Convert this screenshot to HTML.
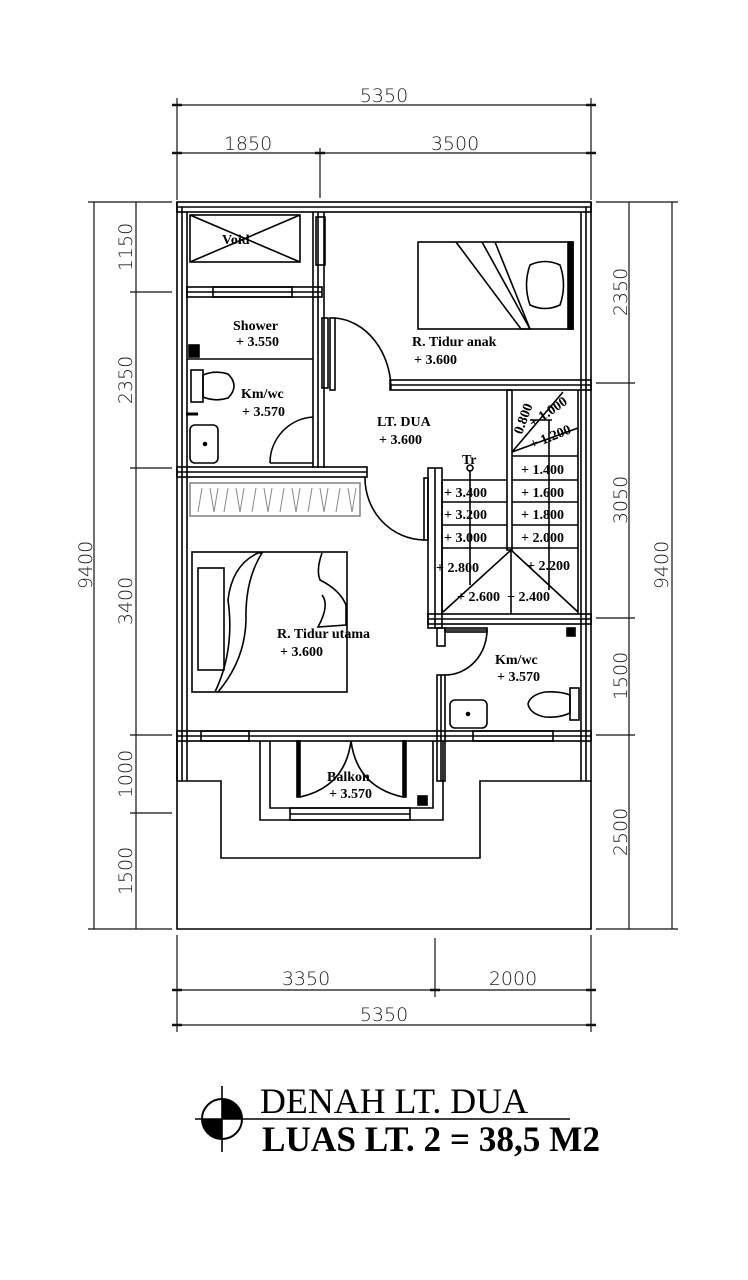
<!DOCTYPE html>
<html><head><meta charset="utf-8"><style>
html,body{margin:0;padding:0;background:#fff;}
svg{display:block;}
.d{font-family:"DejaVu Sans","Liberation Sans",sans-serif;font-size:19px;font-weight:200;fill:#222;}
.t{font-family:"Liberation Serif",serif;font-weight:bold;font-size:14px;fill:#000;}
</style></head><body>
<svg width="748" height="1280" viewBox="0 0 748 1280" xmlns="http://www.w3.org/2000/svg">
<g stroke="#111" stroke-width="1.2" fill="none">
<line x1="177" y1="105" x2="591" y2="105"/><line x1="177" y1="153" x2="591" y2="153"/>
<line x1="177" y1="98" x2="177" y2="200"/><line x1="591" y1="98" x2="591" y2="200"/><line x1="320" y1="148" x2="320" y2="198"/>
<line x1="177" y1="990" x2="591" y2="990"/><line x1="177" y1="1025" x2="591" y2="1025"/>
<line x1="177" y1="935" x2="177" y2="1032"/><line x1="591" y1="935" x2="591" y2="1032"/><line x1="435" y1="938" x2="435" y2="997"/>
<line x1="94" y1="202" x2="94" y2="929"/><line x1="136" y1="202" x2="136" y2="929"/>
<line x1="88" y1="202" x2="172" y2="202"/><line x1="88" y1="929" x2="172" y2="929"/>
<line x1="130" y1="292" x2="172" y2="292"/><line x1="130" y1="468" x2="172" y2="468"/><line x1="130" y1="735" x2="172" y2="735"/><line x1="130" y1="813" x2="172" y2="813"/>
<line x1="629" y1="202" x2="629" y2="929"/><line x1="672" y1="202" x2="672" y2="929"/>
<line x1="596" y1="202" x2="678" y2="202"/><line x1="596" y1="929" x2="678" y2="929"/>
<line x1="596" y1="383" x2="635" y2="383"/><line x1="596" y1="618" x2="635" y2="618"/><line x1="596" y1="735" x2="635" y2="735"/>
</g>
<g stroke="#111" stroke-width="2.5">
<line x1="172" y1="105" x2="182" y2="105"/><line x1="586" y1="105" x2="596" y2="105"/>
<line x1="172" y1="153" x2="182" y2="153"/><line x1="315" y1="153" x2="325" y2="153"/><line x1="586" y1="153" x2="596" y2="153"/>
<line x1="172" y1="990" x2="182" y2="990"/><line x1="430" y1="990" x2="440" y2="990"/><line x1="586" y1="990" x2="596" y2="990"/>
<line x1="172" y1="1025" x2="182" y2="1025"/><line x1="586" y1="1025" x2="596" y2="1025"/>
</g>
<text class="d" x="384" y="102" text-anchor="middle">5350</text>
<text class="d" x="248" y="150" text-anchor="middle">1850</text>
<text class="d" x="455" y="150" text-anchor="middle">3500</text>
<text class="d" x="306" y="985" text-anchor="middle">3350</text>
<text class="d" x="513" y="985" text-anchor="middle">2000</text>
<text class="d" x="384" y="1021" text-anchor="middle">5350</text>
<g class="d" text-anchor="middle">
<text transform="translate(92,565) rotate(-90)">9400</text>
<text transform="translate(132,247) rotate(-90)">1150</text>
<text transform="translate(132,380) rotate(-90)">2350</text>
<text transform="translate(132,601) rotate(-90)">3400</text>
<text transform="translate(132,774) rotate(-90)">1000</text>
<text transform="translate(132,871) rotate(-90)">1500</text>
<text transform="translate(627,292) rotate(-90)">2350</text>
<text transform="translate(627,500) rotate(-90)">3050</text>
<text transform="translate(627,676) rotate(-90)">1500</text>
<text transform="translate(627,832) rotate(-90)">2500</text>
<text transform="translate(668,565) rotate(-90)">9400</text>
</g>

<g stroke="#000" stroke-width="1.6" fill="none">
<rect x="177" y="202" width="414" height="10"/>
<line x1="177" y1="202" x2="177" y2="781"/><line x1="187" y1="212" x2="187" y2="781"/><line x1="182" y1="207" x2="182" y2="781"/>
<line x1="591" y1="202" x2="591" y2="781"/><line x1="581" y1="212" x2="581" y2="781"/><line x1="586" y1="207" x2="586" y2="781"/>
<line x1="177" y1="207" x2="591" y2="207"/>
<polyline points="177,781 177,929 591,929 591,781 480,781 480,858 221,858 221,781 177,781"/>
<rect x="190" y="215" width="110" height="47"/>
<line x1="190" y1="215" x2="300" y2="262"/><line x1="190" y1="262" x2="300" y2="215"/>
<rect x="187" y="287" width="135" height="10"/><line x1="187" y1="292" x2="322" y2="292"/>
<rect x="213" y="287" width="79" height="10"/>
<line x1="313" y1="212" x2="313" y2="468"/><line x1="324" y1="212" x2="324" y2="468"/><line x1="318" y1="212" x2="318" y2="468"/>
<rect x="316" y="217" width="9" height="48"/><rect x="322" y="318" width="6" height="70"/>
<line x1="187" y1="359" x2="313" y2="359"/>
<rect x="177" y="467" width="190" height="10"/><line x1="177" y1="472" x2="367" y2="472"/>
<path d="M270,463 A46,46 0 0 1 313,417"/><line x1="270" y1="463" x2="313" y2="463"/>
<rect x="330" y="318" width="5" height="72"/>
<path d="M335,318 A60,72 0 0 1 391,390"/>
<rect x="390" y="380" width="201" height="10"/><line x1="390" y1="385" x2="591" y2="385"/>
<rect x="418" y="242" width="155" height="87"/>
<rect x="568" y="242" width="5" height="87" fill="#000"/>
<polyline points="456,242 521,329 530,329 482,242"/><line x1="495" y1="242" x2="530" y2="329"/>
<path d="M530,265 Q545,258 560,265 Q567,285 560,305 Q545,312 530,305 Q523,285 530,265Z"/>
<rect x="507" y="390" width="5" height="160"/>
<line x1="512" y1="456" x2="578" y2="456"/><line x1="512" y1="480" x2="578" y2="480"/><line x1="512" y1="502" x2="578" y2="502"/><line x1="512" y1="525" x2="578" y2="525"/><line x1="442" y1="548" x2="578" y2="548"/>
<line x1="442" y1="480" x2="507" y2="480"/><line x1="442" y1="502" x2="507" y2="502"/><line x1="442" y1="525" x2="507" y2="525"/>
<line x1="442" y1="480" x2="442" y2="614"/><line x1="578" y1="390" x2="578" y2="614"/>
<line x1="512" y1="452" x2="563" y2="392"/><line x1="512" y1="452" x2="578" y2="428"/><line x1="530" y1="420" x2="552" y2="420"/>
<polyline points="443,612 511,550 578,612"/><line x1="511" y1="550" x2="511" y2="614"/>
<line x1="470" y1="470" x2="470" y2="585"/><circle cx="470" cy="468" r="3"/>
<line x1="549" y1="420" x2="549" y2="590"/>
<rect x="428" y="468" width="14" height="160"/><line x1="435" y1="468" x2="435" y2="628"/>
<rect x="424" y="478" width="4" height="62"/>
<rect x="428" y="614" width="163" height="10"/><line x1="428" y1="619" x2="591" y2="619"/>
<path d="M365,477 A60,62 0 0 0 424,540"/>
<rect x="190" y="483" width="170" height="33" stroke="#888"/>
<g stroke="#888" stroke-width="1">
<path d="M202,488l-4,24M210,488l4,24M218,488l-4,24M228,488l-4,24M236,488l4,24M244,488l-4,24M256,488l-4,24M264,488l4,24M272,488l-4,24M284,488l-4,24M292,488l4,24M300,488l-4,24M312,488l-4,24M320,488l4,24M328,488l-4,24M340,488l-4,24M348,488l4,24M356,488l-4,24"/>
</g>
<rect x="192" y="552" width="155" height="140"/>
<rect x="198" y="568" width="26" height="102"/>
<path d="M215,692 Q235,650 228,600 Q232,565 258,553 L262,553 Q245,580 246,620 Q245,660 218,692"/>
<path d="M322,553 Q316,570 320,580 Q340,590 346,605 L346,625 L318,627 Q330,605 322,595"/>
<rect x="437" y="628" width="8" height="18"/>
<line x1="445" y1="630" x2="487" y2="630"/><rect x="445" y="628" width="42" height="4"/>
<path d="M487,630 A42,45 0 0 1 445,675"/>
<rect x="437" y="675" width="8" height="106"/><line x1="441" y1="675" x2="441" y2="781"/>
<rect x="450" y="700" width="37" height="28" rx="5"/><circle cx="468" cy="714" r="1.5" fill="#000"/>
<rect x="570" y="688" width="9" height="32"/>
<path d="M570,695 Q560,691 545,692 Q530,695 528,704 Q530,714 545,717 Q560,718 570,713Z"/>
<rect x="567" y="628" width="8" height="8" fill="#000"/>
<rect x="189" y="345" width="10" height="12" fill="#000"/>
<rect x="191" y="370" width="12" height="32"/>
<path d="M203,375 Q215,370 228,374 Q240,386 228,398 Q215,402 203,397Z"/>
<rect x="190" y="425" width="28" height="38" rx="5"/><circle cx="205" cy="444" r="1.5" fill="#000"/>
<line x1="186" y1="414" x2="198" y2="414" stroke-width="3"/>
<rect x="177" y="731" width="414" height="10"/><line x1="177" y1="736" x2="591" y2="736"/>
<rect x="201" y="731" width="48" height="10"/><rect x="473" y="731" width="80" height="10"/>
<polyline points="260,741 260,820 443,820 443,741"/>
<polyline points="270,741 270,808 433,808 433,741"/>
<rect x="290" y="808" width="120" height="12"/><line x1="290" y1="814" x2="410" y2="814"/>
<rect x="297" y="741" width="3" height="56" fill="#000"/><rect x="403" y="741" width="3" height="56" fill="#000"/>
<path d="M300,797 Q345,787 351,741"/><path d="M403,797 Q357,787 351,741"/>
<rect x="418" y="796" width="9" height="9" fill="#000"/>
<line x1="177" y1="741" x2="177" y2="781"/>
</g>

<text class="t" x="222" y="244">Void</text>
<text class="t" x="233" y="330">Shower</text>
<text class="t" x="236" y="346">+ 3.550</text>
<text class="t" x="241" y="398">Km/wc</text>
<text class="t" x="242" y="416">+ 3.570</text>
<text class="t" x="412" y="346">R. Tidur anak</text>
<text class="t" x="414" y="364">+ 3.600</text>
<text class="t" x="377" y="426">LT. DUA</text>
<text class="t" x="379" y="444">+ 3.600</text>
<text class="t" x="462" y="464">Tr</text>
<text class="t" x="444" y="497">+ 3.400</text>
<text class="t" x="444" y="519">+ 3.200</text>
<text class="t" x="444" y="542">+ 3.000</text>
<text class="t" x="436" y="572">+ 2.800</text>
<text class="t" x="457" y="601">+ 2.600</text>
<text class="t" x="507" y="601">+ 2.400</text>
<text class="t" x="521" y="474">+ 1.400</text>
<text class="t" x="521" y="497">+ 1.600</text>
<text class="t" x="521" y="519">+ 1.800</text>
<text class="t" x="521" y="542">+ 2.000</text>
<text class="t" x="527" y="570">+ 2.200</text>
<text class="t" transform="translate(533,428) rotate(-35)">+ 1.000</text>
<text class="t" transform="translate(532,449) rotate(-22)">+ 1.200</text>
<text class="t" transform="translate(522,435) rotate(-70)" font-size="12">0.800</text>
<text class="t" x="277" y="638">R. Tidur utama</text>
<text class="t" x="280" y="656">+ 3.600</text>
<text class="t" x="495" y="664">Km/wc</text>
<text class="t" x="497" y="681">+ 3.570</text>
<text class="t" x="327" y="781">Balkon</text>
<text class="t" x="329" y="798">+ 3.570</text>

<g stroke="#000" stroke-width="1.6">
<line x1="222" y1="1086" x2="222" y2="1152"/><line x1="195" y1="1119" x2="570" y2="1119"/>
</g>
<circle cx="222" cy="1119" r="20" fill="none" stroke="#000" stroke-width="2"/>
<path d="M222,1099 A20,20 0 0 1 242,1119 L222,1119Z" fill="#000"/>
<path d="M222,1139 A20,20 0 0 1 202,1119 L222,1119Z" fill="#000"/>
<text x="260" y="1113" font-family="Liberation Serif,serif" font-size="36" fill="#000" textLength="268" lengthAdjust="spacingAndGlyphs">DENAH LT. DUA</text>
<text x="262" y="1151" font-family="Liberation Serif,serif" font-weight="bold" font-size="36" fill="#000" textLength="338" lengthAdjust="spacingAndGlyphs">LUAS LT. 2 = 38,5 M2</text>
</svg>
</body></html>
